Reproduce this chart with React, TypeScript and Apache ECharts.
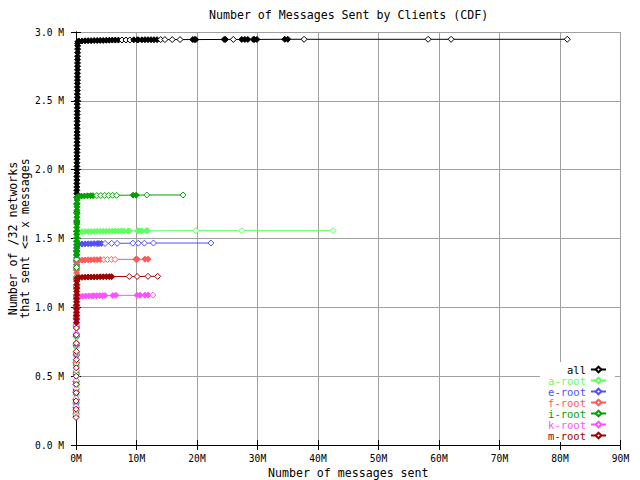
import React, { useEffect, useRef } from 'react';
import * as echarts from 'echarts';

const FONT = '"DejaVu Sans Mono", "Liberation Mono", monospace';

const titleText = 'Number of Messages Sent by Clients (CDF)';
const xAxisName = 'Number of messages sent';
const yAxisName = 'Number of /32 networks\nthat sent <= x messages';

const seriesNames = ['all', 'a-root', 'e-root', 'f-root', 'i-root', 'k-root', 'm-root'];
const seriesColors = ['#000000', '#60ff60', '#5050ff', '#ff5a5a', '#00a000', '#ff50ff', '#a00000'];

// [messages sent (M), networks (M)]
const allData = [
  [0.01, 0.21], [0.01, 0.27], [0.02, 0.33], [0.02, 0.4], [0.03, 0.46], [0.03, 0.53], [0.04, 0.6], [0.04, 0.66],
  [0.05, 0.72], [0.05, 0.79], [0.06, 0.85], [0.06, 0.92], [0.07, 0.99], [0.07, 1.06], [0.08, 1.13], [0.08, 1.2],
  [0.09, 1.27], [0.09, 1.34], [0.1, 1.41], [0.1, 1.48], [0.11, 1.55], [0.11, 1.62], [0.12, 1.69], [0.12, 1.75],
  [0.12, 1.8], [0.13, 1.826], [0.13, 1.85], [0.13, 1.874], [0.14, 1.9], [0.14, 1.925], [0.14, 1.951], [0.15, 1.975],
  [0.15, 2.0], [0.15, 2.024], [0.16, 2.05], [0.16, 2.076], [0.16, 2.1], [0.17, 2.125], [0.17, 2.149], [0.17, 2.175],
  [0.18, 2.2], [0.18, 2.226], [0.18, 2.25], [0.19, 2.274], [0.19, 2.3], [0.19, 2.325], [0.2, 2.351], [0.2, 2.375],
  [0.2, 2.4], [0.21, 2.424], [0.21, 2.45], [0.21, 2.476], [0.22, 2.5], [0.22, 2.525], [0.22, 2.549], [0.23, 2.575],
  [0.23, 2.6], [0.23, 2.626], [0.24, 2.65], [0.24, 2.674], [0.24, 2.7], [0.25, 2.725], [0.25, 2.751], [0.25, 2.775],
  [0.26, 2.8], [0.26, 2.824], [0.27, 2.85], [0.27, 2.876], [0.28, 2.9], [0.29, 2.918], [0.31, 2.93],
  [0.5, 2.934], [1.0, 2.935], [1.5, 2.936], [2.0, 2.937], [2.5, 2.937], [3.0, 2.938], [3.5, 2.938], [4.0, 2.939],
  [4.5, 2.939], [5.0, 2.94], [5.5, 2.94], [6.0, 2.941], [6.5, 2.941], [7.0, 2.941], [7.6, 2.942],
  [8.25, 2.942], [8.9, 2.942], [9.55, 2.943], [10.1, 2.943], [10.3, 2.943], [10.9, 2.943], [11.4, 2.944],
  [11.9, 2.944], [12.4, 2.944], [12.9, 2.944], [13.4, 2.944], [14.0, 2.945], [14.7, 2.945], [15.9, 2.945],
  [17.2, 2.945], [19.3, 2.945], [19.6, 2.945], [19.8, 2.945], [24.5, 2.946], [24.7, 2.946], [26.0, 2.946],
  [27.4, 2.946], [27.9, 2.946], [28.4, 2.946], [29.3, 2.946], [29.5, 2.946], [29.9, 2.946], [34.5, 2.947],
  [35.0, 2.947], [37.7, 2.947], [58.2, 2.947], [62.0, 2.947], [81.2, 2.947],
];

const aRootData = [
  [0.02, 0.22], [0.02, 0.29], [0.03, 0.36], [0.03, 0.43], [0.04, 0.5], [0.04, 0.57], [0.05, 0.64], [0.05, 0.71],
  [0.06, 0.78], [0.06, 0.85], [0.07, 0.92], [0.07, 0.99], [0.08, 1.06], [0.08, 1.13], [0.09, 1.2], [0.09, 1.27],
  [0.1, 1.3], [0.1, 1.325], [0.11, 1.35], [0.11, 1.376], [0.12, 1.4], [0.12, 1.425], [0.13, 1.45], [0.13, 1.474],
  [0.14, 1.5], [0.15, 1.525], [0.17, 1.545],
  [0.5, 1.548], [1.0, 1.549], [1.5, 1.55], [2.0, 1.55], [2.5, 1.551], [3.0, 1.551], [3.5, 1.552], [4.0, 1.552],
  [4.5, 1.553], [5.0, 1.553], [5.5, 1.553], [6.0, 1.554], [6.5, 1.554], [7.0, 1.554], [7.5, 1.555], [7.9, 1.555],
  [8.6, 1.555], [8.8, 1.555], [10.2, 1.556], [10.5, 1.556], [10.9, 1.556], [11.6, 1.556], [11.8, 1.556],
  [19.8, 1.557], [27.4, 1.557], [42.5, 1.557],
];

const eRootData = [
  [0.02, 0.23], [0.02, 0.3], [0.03, 0.37], [0.03, 0.44], [0.04, 0.51], [0.04, 0.58], [0.05, 0.65], [0.05, 0.72],
  [0.06, 0.79], [0.06, 0.86], [0.07, 0.93], [0.07, 1.0], [0.08, 1.07], [0.08, 1.14], [0.09, 1.21], [0.09, 1.28],
  [0.1, 1.31], [0.1, 1.335], [0.11, 1.36], [0.11, 1.385], [0.12, 1.41], [0.13, 1.435], [0.15, 1.455],
  [0.5, 1.459], [1.0, 1.46], [1.5, 1.461], [2.0, 1.462], [2.5, 1.462], [3.0, 1.463], [3.5, 1.463], [3.8, 1.463],
  [4.2, 1.464], [4.8, 1.464], [5.9, 1.465], [6.8, 1.465], [9.4, 1.466], [10.3, 1.466], [11.3, 1.466],
  [12.8, 1.467], [22.3, 1.467],
];

const fRootData = [
  [0.02, 0.25], [0.02, 0.32], [0.03, 0.39], [0.03, 0.46], [0.04, 0.53], [0.04, 0.6], [0.05, 0.67], [0.05, 0.74],
  [0.06, 0.81], [0.06, 0.88], [0.07, 0.95], [0.07, 1.02], [0.08, 1.09], [0.08, 1.16],
  [0.09, 1.2], [0.09, 1.225], [0.1, 1.25], [0.1, 1.275], [0.11, 1.3], [0.12, 1.325], [0.14, 1.34],
  [0.5, 1.342], [1.0, 1.343], [1.5, 1.344], [2.0, 1.345], [2.5, 1.345], [3.0, 1.346], [3.5, 1.346], [4.0, 1.347],
  [4.6, 1.347], [5.22, 1.348], [5.84, 1.348], [6.46, 1.348], [9.9, 1.349], [10.1, 1.349], [11.4, 1.35],
  [11.9, 1.35],
];

const iRootData = [
  [0.02, 0.24], [0.02, 0.31], [0.03, 0.38], [0.03, 0.45], [0.04, 0.52], [0.04, 0.59], [0.05, 0.66], [0.05, 0.73],
  [0.06, 0.8], [0.06, 0.87], [0.07, 0.94], [0.07, 1.01], [0.08, 1.08], [0.08, 1.15], [0.09, 1.22], [0.09, 1.29],
  [0.1, 1.35], [0.1, 1.38], [0.11, 1.405], [0.11, 1.43], [0.11, 1.455], [0.12, 1.48], [0.12, 1.505], [0.12, 1.53],
  [0.13, 1.555], [0.13, 1.58], [0.13, 1.605], [0.14, 1.63], [0.14, 1.655], [0.15, 1.68], [0.15, 1.705],
  [0.16, 1.73], [0.17, 1.755], [0.18, 1.78], [0.2, 1.8],
  [0.4, 1.806], [0.9, 1.808], [1.4, 1.809], [1.9, 1.81], [2.4, 1.811], [2.8, 1.811],
  [3.45, 1.812], [4.1, 1.812], [4.75, 1.813], [5.4, 1.813], [6.05, 1.814], [6.7, 1.814],
  [9.45, 1.815], [9.95, 1.815], [11.7, 1.816], [17.7, 1.816],
];

const kRootData = [
  [0.02, 0.22], [0.02, 0.28], [0.03, 0.34], [0.03, 0.41], [0.04, 0.47], [0.04, 0.54], [0.05, 0.61], [0.05, 0.67],
  [0.06, 0.74], [0.06, 0.81], [0.07, 0.87],
  [0.07, 0.91], [0.08, 0.935], [0.08, 0.96], [0.09, 0.985], [0.09, 1.01], [0.1, 1.035], [0.11, 1.06], [0.13, 1.075],
  [0.6, 1.08], [1.1, 1.081], [1.6, 1.082], [2.1, 1.083], [2.6, 1.083], [2.9, 1.084],
  [3.4, 1.084], [3.9, 1.085], [4.4, 1.085], [4.8, 1.086], [6.1, 1.086], [6.6, 1.087],
  [10.1, 1.087], [10.6, 1.088], [11.4, 1.088], [11.9, 1.089], [12.7, 1.089],
];

const mRootData = [
  [0.01, 0.2], [0.02, 0.26], [0.02, 0.32], [0.03, 0.38], [0.03, 0.44], [0.04, 0.5], [0.04, 0.56], [0.05, 0.62],
  [0.05, 0.68], [0.06, 0.74], [0.06, 0.8], [0.07, 0.85],
  [0.07, 0.89], [0.08, 0.915], [0.08, 0.94], [0.09, 0.965], [0.09, 0.99], [0.1, 1.015], [0.1, 1.04], [0.11, 1.065],
  [0.11, 1.09], [0.12, 1.115], [0.12, 1.14], [0.13, 1.165], [0.14, 1.19], [0.16, 1.212],
  [0.5, 1.217], [1.0, 1.218], [1.5, 1.219], [2.0, 1.22], [2.5, 1.22], [3.0, 1.221], [3.5, 1.221], [4.0, 1.222],
  [4.5, 1.222], [5.0, 1.223], [5.5, 1.223], [5.9, 1.223], [8.8, 1.224], [10.1, 1.224], [11.9, 1.225],
  [13.5, 1.225],
];

const seriesData = [allData, aRootData, eRootData, fRootData, iRootData, kRootData, mRootData];

const X_MIN = 0;
const X_MAX = 90;
const X_STEP = 10;
const Y_MIN = 0;
const Y_MAX = 3;
const Y_STEP = 0.5;

const W = 640;
const H = 480;
const GRID = { left: 76, right: 19.5, top: 32, bottom: 35 };
const PX_X = (W - GRID.left - GRID.right) / (X_MAX - X_MIN);
const PX_Y = (H - GRID.top - GRID.bottom) / (Y_MAX - Y_MIN);
const DENSE_PX = 3.6;
const LEGEND_ROW = 11;

function buildData(points: number[][], color: string) {
  return points.map((p, i) => {
    const dist = (q?: number[]) =>
      q ? Math.hypot((q[0] - p[0]) * PX_X, (q[1] - p[1]) * PX_Y) : Infinity;
    const near = Math.min(dist(points[i - 1]), dist(points[i + 1]));
    return near < DENSE_PX ? { value: p, itemStyle: { color } } : { value: p };
  });
}

export default function App() {
  const ref = useRef<HTMLDivElement>(null);

  useEffect(() => {
    if (!ref.current) return;
    const chart = echarts.init(ref.current, undefined, { renderer: 'svg' });

    const tickFont = { fontFamily: FONT, fontSize: 9.6, color: '#000' };
    const bigFont = { fontFamily: FONT, fontSize: 11.6, color: '#000' };

    const mirrorAxisCommon = {
      axisLine: { show: true, lineStyle: { color: '#000', width: 1 } },
      axisTick: { show: true, inside: true, length: 5, lineStyle: { color: '#000' } },
      axisLabel: { show: false },
      splitLine: { show: false },
    };

    const option: any = {
      animation: false,
      backgroundColor: '#fff',
      title: {
        text: titleText,
        left: 209,
        top: 9,
        padding: 0,
        textStyle: { ...bigFont, fontWeight: 'normal' },
      },
      grid: { ...GRID, outerBoundsMode: 'none', containLabel: false },
      xAxis: [
        {
          type: 'value',
          min: X_MIN,
          max: X_MAX,
          interval: X_STEP,
          position: 'bottom',
          name: xAxisName,
          nameLocation: 'middle',
          nameGap: 22,
          nameMoveOverlap: false,
          nameTextStyle: bigFont,
          axisLine: { show: true, onZero: false, lineStyle: { color: '#000', width: 1 } },
          axisTick: { show: true, inside: true, length: 5, lineStyle: { color: '#000' } },
          axisLabel: { ...tickFont, margin: 8, formatter: (v: number) => `${v}M` },
          splitLine: { show: true, lineStyle: { color: '#a0a0a0', width: 1 } },
        },
        {
          type: 'value',
          min: X_MIN,
          max: X_MAX,
          interval: X_STEP,
          position: 'top',
          ...mirrorAxisCommon,
        },
      ],
      yAxis: [
        {
          type: 'value',
          min: Y_MIN,
          max: Y_MAX,
          interval: Y_STEP,
          position: 'left',
          name: yAxisName,
          nameLocation: 'middle',
          nameRotate: 90,
          nameGap: 45.5,
          nameMoveOverlap: false,
          nameTextStyle: { ...bigFont, lineHeight: 12 },
          axisLine: { show: true, onZero: false, lineStyle: { color: '#000', width: 1 } },
          axisTick: { show: true, inside: true, length: 5, lineStyle: { color: '#000' } },
          axisLabel: { ...tickFont, margin: 12, formatter: (v: number) => `${v.toFixed(1)} M` },
          splitLine: { show: true, lineStyle: { color: '#a0a0a0', width: 1 } },
        },
        {
          type: 'value',
          min: Y_MIN,
          max: Y_MAX,
          interval: Y_STEP,
          position: 'right',
          ...mirrorAxisCommon,
        },
      ],
      legend: seriesNames.map((name, i) => ({
        data: [name],
        right: 33,
        top: 364 + i * LEGEND_ROW,
        orient: 'vertical',
        align: 'right',
        itemWidth: 15,
        itemHeight: 7,
        itemGap: 0,
        padding: 0,
        selectedMode: false,
        textStyle: {
          fontFamily: FONT,
          fontSize: 10.5,
          lineHeight: 10.5,
          color: seriesColors[i],
          padding: [0, 0, 0, 0],
        },
      })),
      graphic: {
        elements: [
          {
            type: 'rect',
            silent: true,
            z: 3,
            shape: { x: 540, y: 362, width: 75, height: 80 },
            style: { fill: '#fff' },
          },
        ],
      },
      series: seriesNames.map((name, i) => ({
        type: 'line',
        name,
        xAxisIndex: 0,
        yAxisIndex: 0,
        data: buildData(seriesData[i], seriesColors[i]),
        symbol: 'diamond',
        symbolSize: 6,
        showSymbol: true,
        showAllSymbol: true,
        lineStyle: { color: seriesColors[i], width: 1 },
        itemStyle: { color: '#fff', borderColor: seriesColors[i], borderWidth: 1 },
        emphasis: { disabled: true },
        silent: true,
        clip: true,
      })),
    };

    chart.setOption(option);
    return () => chart.dispose();
  }, []);

  return (
    <div
      ref={ref}
      style={{ position: 'fixed', left: 0, top: 0, width: W, height: H, background: '#fff' }}
    />
  );
}
